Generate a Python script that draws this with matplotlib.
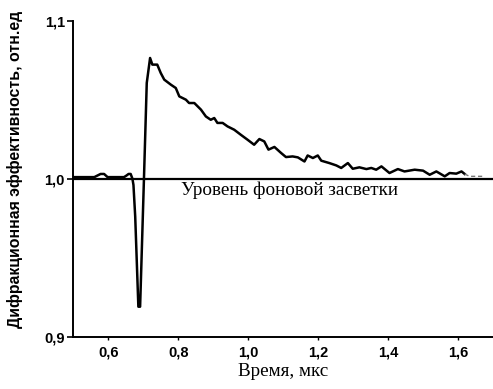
import matplotlib
matplotlib.use("Agg")
import matplotlib.pyplot as plt

# signal trace (time in microseconds, relative diffraction efficiency)
time_us = [0.500, 0.520, 0.545, 0.560, 0.578, 0.588, 0.598, 0.610, 0.630, 0.645,
           0.652, 0.658, 0.664, 0.669, 0.672, 0.677, 0.686, 0.691, 0.702, 0.710,
           0.7195, 0.726, 0.740, 0.750, 0.760, 0.779, 0.793, 0.803, 0.822, 0.831,
           0.846, 0.865, 0.879, 0.893, 0.903, 0.912, 0.927, 0.941, 0.960, 0.979,
           0.998, 1.017, 1.032, 1.046, 1.058, 1.075, 1.094, 1.108, 1.127, 1.142,
           1.161, 1.170, 1.185, 1.199, 1.209, 1.232, 1.252, 1.266, 1.285, 1.299,
           1.318, 1.338, 1.352, 1.366, 1.381, 1.404, 1.428, 1.447, 1.476, 1.500,
           1.519, 1.538, 1.562, 1.576, 1.595, 1.610, 1.619]
efficiency = [1.001, 1.001, 1.001, 1.001, 1.003, 1.003, 1.001, 1.001, 1.001, 1.001,
              1.002, 1.003, 1.003, 1.000, 0.996, 0.976, 0.919, 0.919, 1.000, 1.0606,
              1.0764, 1.0722, 1.0722, 1.0669, 1.0627, 1.0595, 1.0574, 1.0521, 1.0500, 1.0479,
              1.0479, 1.0437, 1.0394, 1.0373, 1.0384, 1.0353, 1.0353, 1.0331, 1.0310, 1.0278,
              1.0247, 1.0215, 1.0251, 1.0236, 1.0184, 1.0201, 1.0163, 1.0137, 1.0141, 1.0135,
              1.0109, 1.0147, 1.0131, 1.0147, 1.0114, 1.0099, 1.0084, 1.0068, 1.0099, 1.0063,
              1.0072, 1.0061, 1.0068, 1.0057, 1.0078, 1.0036, 1.0061, 1.0046, 1.0057, 1.0051,
              1.0025, 1.0046, 1.0015, 1.0036, 1.0032, 1.0046, 1.0030]
tail_time = [1.619, 1.633, 1.650, 1.671]
tail_eff = [1.0030, 1.0015, 1.0015, 1.0015]

background_level = 1.0
xticks = [0.6, 0.8, 1.0, 1.2, 1.4, 1.6]
yticks = [0.9, 1.0, 1.1]

fig = plt.figure(figsize=(4.93, 3.89), dpi=100)
ax = fig.add_axes([0.1487, 0.1344, 0.8513, 0.8124])

ax.axhline(background_level, color="black", linewidth=1.6, zorder=2)
ax.plot(time_us, efficiency, color="black", linewidth=1.8, zorder=3)
ax.plot(tail_time, tail_eff, color="#777777", linewidth=1.0, linestyle=(0, (3, 2)), zorder=3)

ax.text(0.807, 0.9925, "Уровень фоновой засветки", family="Liberation Serif",
        fontsize=13.8, ha="left", va="center")

ax.set_xlim(0.5, 1.7)
ax.set_ylim(0.9, 1.1)
ax.set_xticks(xticks)
ax.set_xticklabels([f"{v:.1f}".replace(".", ",") for v in xticks])
ax.set_yticks(yticks)
ax.set_yticklabels([f"{v:.1f}".replace(".", ",") for v in yticks])
for lab in ax.get_xticklabels() + ax.get_yticklabels():
    lab.set_family("Liberation Sans")
    lab.set_fontweight("bold")
    lab.set_fontsize(10.5)

ax.spines["top"].set_visible(False)
ax.spines["right"].set_visible(False)
ax.spines["left"].set_linewidth(1.4)
ax.spines["bottom"].set_linewidth(1.4)
ax.tick_params(axis="y", direction="out", length=4, width=1.2, pad=2)
ax.tick_params(axis="x", direction="out", length=2.5, width=1.0, pad=4)

ax.set_xlabel("Время, мкс", family="Liberation Serif", fontsize=13.8, labelpad=2)
ax.set_ylabel("Дифракционная эффективность, отн.ед", family="Liberation Sans",
              fontweight="bold", fontsize=11.4)
ax.yaxis.set_label_coords(-0.12, 0.53)

fig.savefig("out.png", dpi=100)
